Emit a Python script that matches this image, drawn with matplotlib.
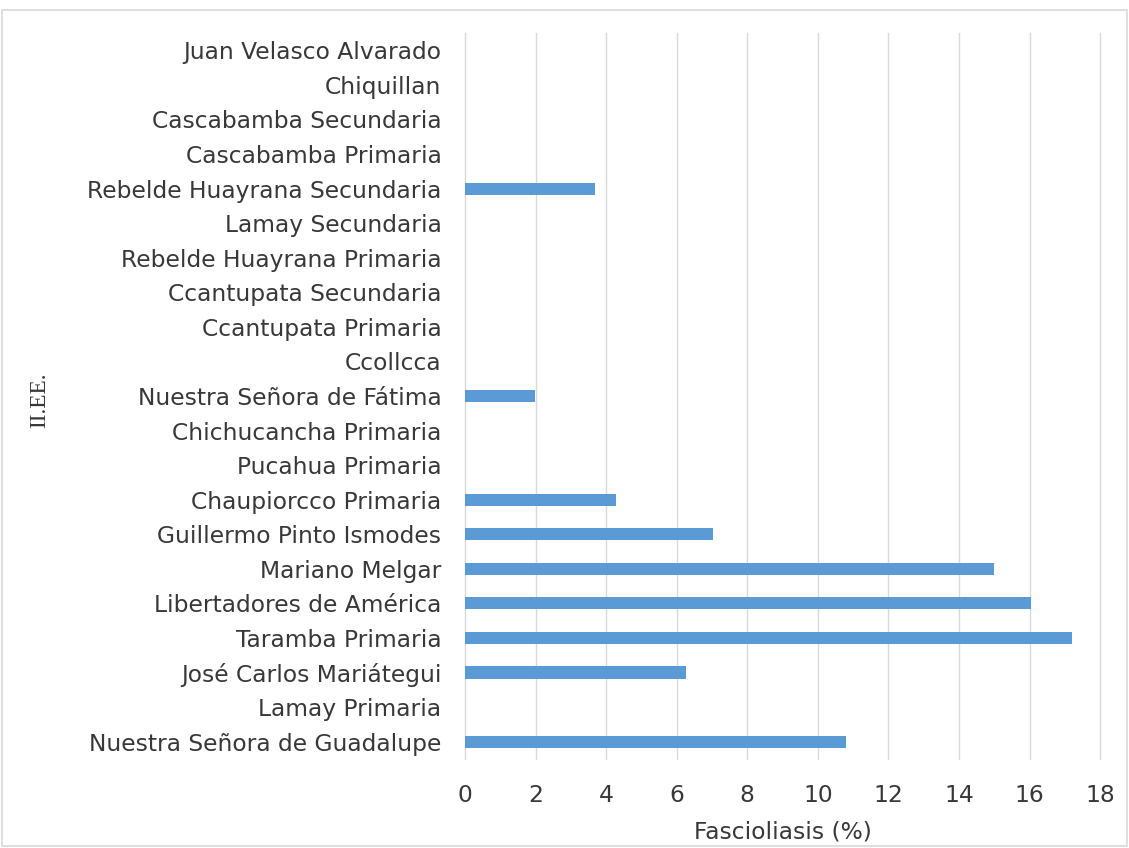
import matplotlib
matplotlib.use("Agg")
import matplotlib.pyplot as plt
from matplotlib.patches import Rectangle

categories = [
    "Nuestra Señora de Guadalupe", "Lamay Primaria", "José Carlos Mariátegui",
    "Taramba Primaria", "Libertadores de América", "Mariano Melgar",
    "Guillermo Pinto Ismodes", "Chaupiorcco Primaria", "Pucahua Primaria",
    "Chichucancha Primaria", "Nuestra Señora de Fátima", "Ccollcca",
    "Ccantupata Primaria", "Ccantupata Secundaria", "Rebelde Huayrana Primaria",
    "Lamay Secundaria", "Rebelde Huayrana Secundaria", "Cascabamba Primaria",
    "Cascabamba Secundaria", "Chiquillan", "Juan Velasco Alvarado",
]
values = [10.8, 0, 6.25, 17.2, 16.05, 15.0, 7.03, 4.29, 0, 0, 1.97, 0,
          0, 0, 0, 0, 3.67, 0, 0, 0, 0]
xticks = [0, 2, 4, 6, 8, 10, 12, 14, 16, 18]

text_color = "#383838"
plt.rcParams['font.family'] = ['DejaVu Sans']
fs = 16.8

fig = plt.figure(figsize=(11.29, 8.48), dpi=100)
ax = fig.add_axes([0.4119, 0.105, 0.5625, 0.856])
ax.barh(range(len(categories)), values, height=0.35, color="#5B9BD5", zorder=3)
ax.set_ylim(-0.5, len(categories) - 0.5)
ax.set_xlim(0, 18)
ax.set_xticks(xticks)
ax.set_xticklabels([str(t) for t in xticks])
ax.set_yticks(range(len(categories)))
ax.set_yticklabels(categories)
ax.tick_params(axis='both', length=0, labelsize=fs, labelcolor=text_color)
ax.tick_params(axis='x', pad=18)
ax.tick_params(axis='y', pad=17)
ax.grid(axis='x', color="#d9d9d9", linewidth=1.0, zorder=0)
for gl in ax.get_xgridlines():
    gl.set_clip_on(False)
for s in ax.spines.values():
    s.set_visible(False)
ax.set_xlabel("Fascioliasis (%)", fontsize=fs, color=text_color, labelpad=10)
fig.text(40 / 1129, 1 - 400 / 848, "II.EE.", rotation=90, ha='center', va='center',
         fontsize=fs, color=text_color, family=['Liberation Serif'])
fig.patches.append(Rectangle((0.002, 0.002), 0.996, 0.986, transform=fig.transFigure,
                             fill=False, edgecolor="#d9d9d9", linewidth=1.2))
fig.savefig("out.png", dpi=100)
